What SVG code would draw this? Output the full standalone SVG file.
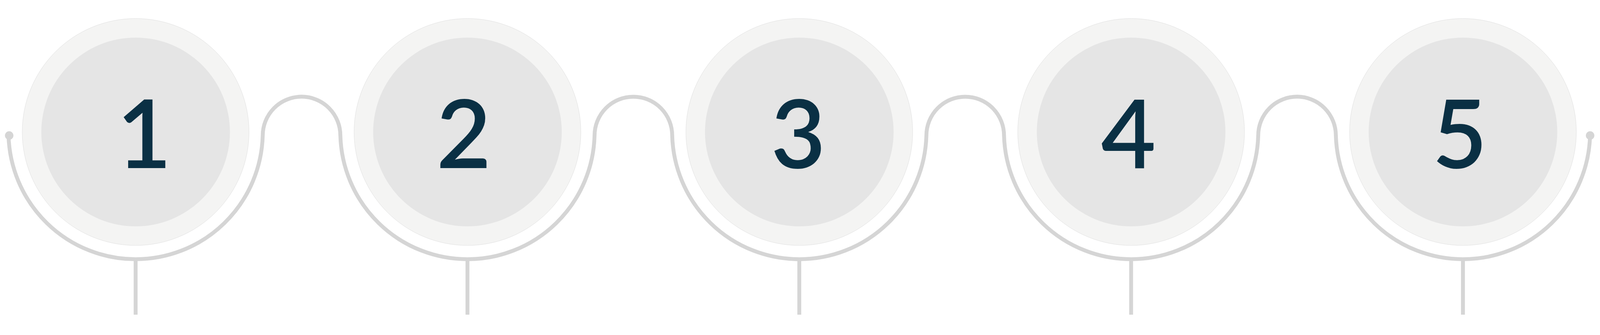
<svg xmlns="http://www.w3.org/2000/svg" width="4530" height="857" viewBox="0 0 4530 857">
  <style>
    .outer { fill: #F4F4F3; stroke: #DEDEDE; stroke-width: 1; }
    .inner { fill: #E5E5E5; }
    .num { font-family: Lato, "Open Sans", "Liberation Sans", sans-serif; font-size: 268px; font-weight: 600; fill: #0A3044; text-anchor: middle; }
    .wire { fill: none; stroke: #D5D5D5; stroke-width: 11; }
    .dot { fill: #D5D5D5; }
  </style>
  <rect width="4530" height="857" fill="#FFFFFF"/>
  <g id="diagram" transform="translate(0 41.05) scale(0.904194)">
    <g id="connectors">
      <path class="wire" d="M24.14 338 A360 360 0 0 0 743.86 338 A109.89 109.89 0 0 1 963.64 338 A360 360 0 0 0 1683.36 338 A109.89 109.89 0 0 1 1903.14 338 A360 360 0 0 0 2622.86 338 A109.89 109.89 0 0 1 2842.64 338 A360 360 0 0 0 3562.36 338 A109.89 109.89 0 0 1 3782.14 338 A360 360 0 0 0 4501.86 338"/>
      <line class="wire" x1="384" y1="684" x2="384" y2="845"/>
      <line class="wire" x1="1323.5" y1="684" x2="1323.5" y2="845"/>
      <line class="wire" x1="2263" y1="684" x2="2263" y2="845"/>
      <line class="wire" x1="3202.5" y1="684" x2="3202.5" y2="845"/>
      <line class="wire" x1="4142" y1="684" x2="4142" y2="845"/>
      <circle class="dot" cx="26" cy="338" r="12"/>
      <circle class="dot" cx="4502" cy="338" r="12"/>
    </g>
    <g id="node1">
      <circle class="outer" cx="384" cy="328" r="321"/>
      <circle class="inner" cx="384" cy="328" r="267"/>
      <text class="num" x="408" y="430">1</text>
    </g>
    <g id="node2">
      <circle class="outer" cx="1323.5" cy="328" r="321"/>
      <circle class="inner" cx="1323.5" cy="328" r="267"/>
      <text class="num" x="1313" y="430">2</text>
    </g>
    <g id="node3">
      <circle class="outer" cx="2263" cy="328" r="321"/>
      <circle class="inner" cx="2263" cy="328" r="267"/>
      <text class="num" x="2260" y="430">3</text>
    </g>
    <g id="node4">
      <circle class="outer" cx="3202.5" cy="328" r="321"/>
      <circle class="inner" cx="3202.5" cy="328" r="267"/>
      <text class="num" x="3195" y="430">4</text>
    </g>
    <g id="node5">
      <circle class="outer" cx="4142" cy="328" r="321"/>
      <circle class="inner" cx="4142" cy="328" r="267"/>
      <text class="num" x="4133" y="430">5</text>
    </g>
  </g>
</svg>
